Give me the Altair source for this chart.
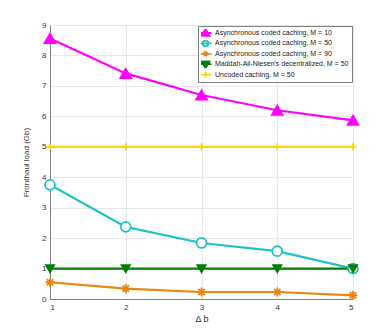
import altair as alt
import pandas as pd

delta_b = [1, 2, 3, 4, 5]
series_names = [
    "Asynchronous coded caching, M = 10",
    "Asynchronous coded caching, M = 50",
    "Asynchronous coded caching,  M = 90",
    "Maddah-Ali-Niesen's decentralized, M = 50",
    "Uncoded caching, M = 50",
]
async_m10 = [8.56, 7.41, 6.70, 6.20, 5.87]
async_m50 = [3.75, 2.37, 1.84, 1.57, 1.00]
async_m90 = [0.55, 0.34, 0.23, 0.23, 0.12]
maddah_m50 = [1.0, 1.0, 1.0, 1.0, 1.0]
uncoded_m50 = [5.0, 5.0, 5.0, 5.0, 5.0]

colors = ["#FF00FF", "#1EC3C3", "#EC850E", "#008000", "#FFD500"]
fills = ["#FF00FF", "#FFFFFF", "#EC850E", "#008000", "#FFD500"]

asterisk = "M-1,0H1M0,-1V1M-0.7,-0.7L0.7,0.7M-0.7,0.7L0.7,-0.7"
plus = "M-1,0H1M0,-1V1"
plot_shapes = ["triangle-up", "circle", asterisk, "triangle-down", plus]

legend_shapes = [
    "M-2.4,0H2.4M0,-1.5L1.6,1.1H-1.6Z",
    "M-2.4,0H2.4M1.15,0A1.15,1.15 0 1,1 -1.15,0A1.15,1.15 0 1,1 1.15,0",
    "M-2.4,0H2.4M0,-1V1M-0.75,-0.75L0.75,0.75M-0.75,0.75L0.75,-0.75",
    "M-2.4,0H2.4M0,1.5L1.6,-1.1H-1.6Z",
    "M-2.4,0H2.4M0,-1.2V1.2",
]

rows = []
for name, vals in zip(series_names, [async_m10, async_m50, async_m90, maddah_m50, uncoded_m50]):
    for xv, yv in zip(delta_b, vals):
        rows.append({"x": xv, "y": yv, "series": name})
df = pd.DataFrame(rows)

x_enc = alt.X("x:Q", scale=alt.Scale(domain=[1, 5], nice=False),
              axis=alt.Axis(values=delta_b, title="Δ b", format="d"))
y_enc = alt.Y("y:Q", scale=alt.Scale(domain=[0, 9], nice=False),
              axis=alt.Axis(values=list(range(10)), title="Fronthaul load (Gb)", format="d"))

base = alt.Chart(df)

lines = base.mark_line(strokeWidth=2.2).encode(
    x=x_enc, y=y_enc,
    color=alt.Color("series:N", scale=alt.Scale(domain=series_names, range=colors), legend=None),
    detail="series:N",
)

points = base.mark_point(opacity=1, strokeWidth=1.8).encode(
    x=x_enc, y=y_enc,
    stroke=alt.Stroke("series:N", scale=alt.Scale(domain=series_names, range=colors), legend=None),
    fill=alt.Fill("series:N", scale=alt.Scale(domain=series_names, range=fills), legend=None),
    shape=alt.Shape("series:N", scale=alt.Scale(domain=series_names, range=plot_shapes), legend=None),
    size=alt.Size("series:N", scale=alt.Scale(domain=series_names, range=[115, 50, 25, 85, 42]), legend=None),
)

leg = dict(title=None, orient="top-right", offset=1, symbolSize=25, symbolStrokeWidth=1.8,
           symbolOffset=1, labelOffset=6, rowPadding=2.4, clipHeight=8)
legend_layer = base.mark_point(opacity=1, strokeWidth=1.8, size=25).encode(
    x=x_enc, y=y_enc,
    stroke=alt.Stroke("series:N", scale=alt.Scale(domain=series_names, range=colors), legend=alt.Legend(**leg)),
    fill=alt.Fill("series:N", scale=alt.Scale(domain=series_names, range=fills), legend=alt.Legend(**leg)),
    shape=alt.Shape("series:N", scale=alt.Scale(domain=series_names, range=legend_shapes), legend=alt.Legend(**leg)),
).transform_filter("datum.x < 0")

chart = alt.layer(lines, points, legend_layer).resolve_scale(
    color="independent", stroke="independent", fill="independent",
    shape="independent", size="independent",
).properties(
    width=303, height=274,
    autosize=alt.AutoSizeParams(type="none"),
    padding={"left": 42, "top": 17, "right": 29, "bottom": 29},
).configure_view(
    stroke="#808080", strokeWidth=1,
).configure_axis(
    domainColor="#808080", ticks=False, grid=True, gridColor="#E8E8E8",
    labelFont="Liberation Sans", labelFontSize=8, labelColor="#333333", labelPadding=4,
    titleFont="Liberation Sans", titleFontSize=8, titleColor="#333333", titleFontWeight="normal",
).configure_axisY(titlePadding=11).configure_axisX(titlePadding=3, titleFontSize=9).configure_legend(
    strokeColor="#808080", fillColor="#FFFFFF", padding=3, cornerRadius=0,
    labelFont="Liberation Sans", labelFontSize=7, labelColor="#222222",
    labelLimit=300,
)

chart.save("out.html", embed_options={"renderer": "svg", "actions": False})
